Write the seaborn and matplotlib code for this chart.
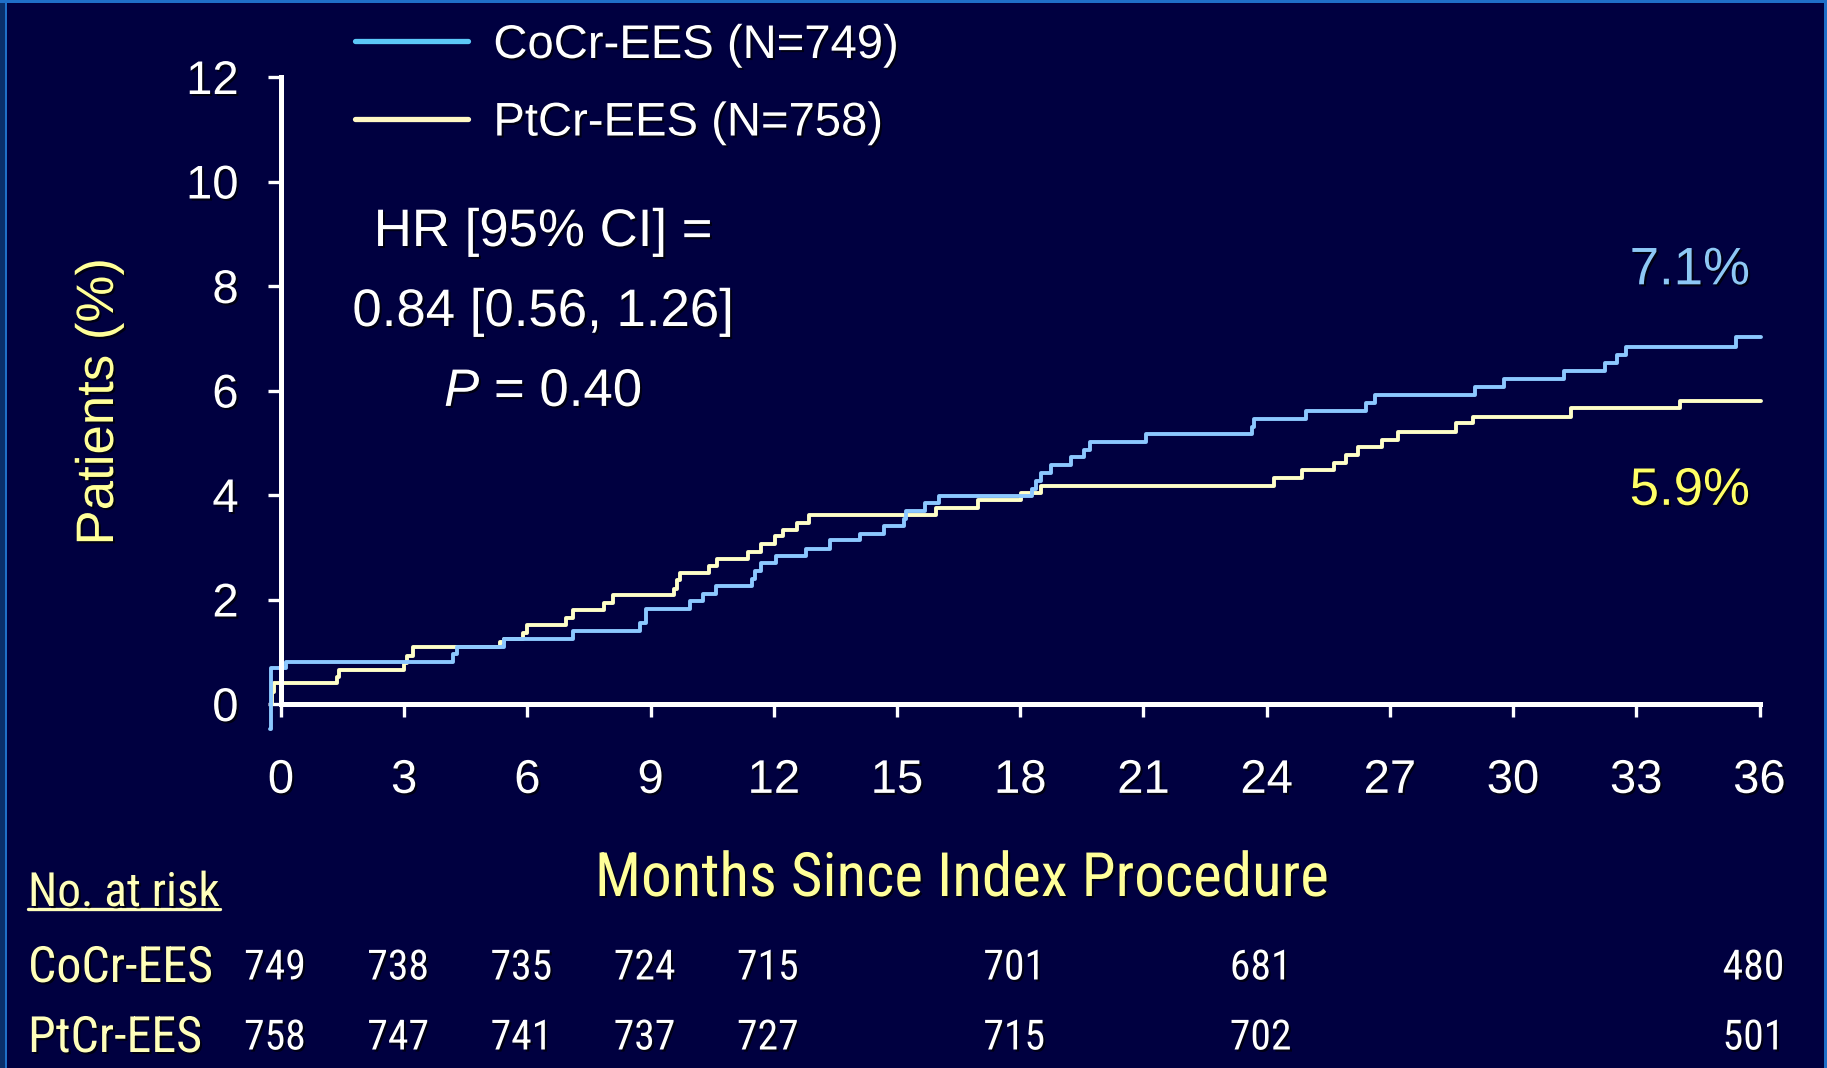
import matplotlib
matplotlib.use('Agg')
import matplotlib.pyplot as plt
import matplotlib.patheffects as pe
import matplotlib.transforms as mtransforms
from matplotlib.lines import Line2D
from matplotlib.patches import Rectangle
import pandas as pd
import seaborn as sns

# ---- data ----
# cumulative event rate (%) vs months, step curves
cocr_months = [-0.26, -0.25, 0.13, 4.19, 4.29, 5.42, 7.12, 8.73, 8.88, 9.96, 10.28, 10.60,
               11.47, 11.53, 11.69, 12.05, 12.78, 13.37, 14.11, 14.68, 15.17, 15.22, 15.68,
               16.03, 18.29, 18.38, 18.51, 18.74, 19.24, 19.55, 19.69, 21.05, 23.65, 23.68,
               24.96, 26.41, 26.63, 29.07, 29.79, 31.24, 32.25, 32.53, 32.74, 35.42, 36.03]
cocr_pct = [-0.47, 0.68, 0.81, 0.95, 1.09, 1.25, 1.40, 1.55, 1.82, 1.97, 2.11, 2.25,
            2.40, 2.55, 2.70, 2.83, 2.97, 3.13, 3.26, 3.41, 3.55, 3.70, 3.85,
            3.98, 4.12, 4.27, 4.42, 4.58, 4.73, 4.87, 5.02, 5.16, 5.30, 5.46,
            5.61, 5.76, 5.92, 6.07, 6.22, 6.38, 6.52, 6.68, 6.84, 7.03, 7.03]

ptcr_months = [-0.23, -0.22, -0.16, 1.36, 1.42, 2.99, 3.08, 3.21, 5.34, 5.42, 5.90, 5.99,
               6.95, 7.12, 7.86, 8.08, 9.57, 9.64, 9.71, 10.42, 10.62, 11.36, 11.69, 12.03,
               12.23, 12.57, 12.86, 15.94, 16.98, 18.03, 18.50, 24.17, 24.86, 25.63, 25.92,
               26.22, 26.80, 27.20, 28.62, 29.03, 31.40, 34.06, 36.03]
ptcr_pct = [0.0, 0.23, 0.40, 0.52, 0.66, 0.79, 0.92, 1.09, 1.18, 1.25, 1.35, 1.51,
            1.64, 1.80, 1.94, 2.09, 2.21, 2.37, 2.50, 2.65, 2.77, 2.91, 3.06, 3.21,
            3.33, 3.47, 3.61, 3.76, 3.90, 4.04, 4.18, 4.33, 4.47, 4.61, 4.76,
            4.92, 5.06, 5.20, 5.37, 5.50, 5.66, 5.79, 5.79]

arms = ['CoCr-EES', 'PtCr-EES']
arm_n = [749, 758]
final_labels = ['7.1%', '5.9%']
hr_lines = ['HR [95% CI] =', '0.84 [0.56, 1.26]', '$P$ = 0.40']

risk_months = [0, 3, 6, 9, 12, 18, 24, 36]
cocr_risk = [749, 738, 735, 724, 715, 701, 681, 480]
ptcr_risk = [758, 747, 741, 737, 727, 715, 702, 501]

x_ticks = list(range(0, 37, 3))
y_ticks = list(range(0, 13, 2))

# ---- colours ----
BG = '#000040'
BLUE = '#8CC8FF'
YELLOW = '#FFFFC8'
LEG_BLUE = '#5CC8F8'
LEG_YELLOW = '#FFF8C4'
LABEL_YELLOW = '#FFFF99'
ROW_YELLOW = '#FFFFBB'
NARROW = 'Roboto Condensed'

df = pd.concat([
    pd.DataFrame({'month': cocr_months, 'pct': cocr_pct, 'arm': arms[0]}),
    pd.DataFrame({'month': ptcr_months, 'pct': ptcr_pct, 'arm': arms[1]}),
], ignore_index=True)

sns.set_style('ticks')
plt.rcParams['font.family'] = ['Liberation Sans', 'DejaVu Sans']
plt.rcParams['mathtext.fontset'] = 'custom'
plt.rcParams['mathtext.rm'] = 'Liberation Sans'
plt.rcParams['mathtext.it'] = 'Liberation Sans:italic'

shadow = [pe.withSimplePatchShadow(offset=(1.5, -1.5), shadow_rgbFace='black', alpha=0.7)]

W, H = 1827, 1068
fig = plt.figure(figsize=(W / 100, H / 100), dpi=100, facecolor=BG)
ax = fig.add_axes([281 / W, 1 - 704 / H, (1759.5 - 281) / W, (704 - 77) / H])
ax.set_facecolor(BG)

sns.lineplot(data=df, x='month', y='pct', hue='arm', hue_order=[arms[1], arms[0]],
             palette={arms[0]: BLUE, arms[1]: YELLOW}, drawstyle='steps-post',
             estimator=None, sort=False, linewidth=2.8, legend=False, ax=ax, clip_on=False)

ax.set_xlim(0, 36)
ax.set_ylim(0, 12)
ax.set_xticks(x_ticks)
ax.set_yticks(y_ticks)
for s in ['top', 'right']:
    ax.spines[s].set_visible(False)
for s in ['left', 'bottom']:
    ax.spines[s].set_color('white')
    ax.spines[s].set_linewidth(3.6)
ax.tick_params(colors='white', labelsize=34, length=9.5, width=2.4, direction='out')
ax.tick_params(axis='x', pad=30)
ax.tick_params(axis='y', pad=21)
for lab in ax.get_xticklabels() + ax.get_yticklabels():
    lab.set_path_effects(shadow)

ax.set_ylabel('Patients (%)', color=LABEL_YELLOW, fontsize=38, va='center')
ax.yaxis.set_label_coords((99 - 281) / (1759.5 - 281), (704 - 402) / (704 - 77))
ax.set_xlabel('Months Since Index Procedure', color=LABEL_YELLOW, fontsize=44,
              family=NARROW, va='center')
ax.xaxis.set_label_coords((962 - 281) / (1759.5 - 281), (704 - 879) / (704 - 77))
ax.xaxis.label.set_path_effects(shadow)
ax.yaxis.label.set_path_effects(shadow)

# legend
handles = [Line2D([], [], color=LEG_BLUE, lw=3.8), Line2D([], [], color=LEG_YELLOW, lw=3.8)]
labels = [f'{a} (N={n})' for a, n in zip(arms, arm_n)]
leg = fig.legend(handles, labels, loc='upper left', bbox_to_anchor=(355 / W, 1 - 24 / H),
                 bbox_transform=fig.transFigure, frameon=False, fontsize=34,
                 handlelength=2.4, handletextpad=0.53, labelspacing=0.71,
                 borderpad=0, borderaxespad=0, labelcolor='white')
for t in leg.get_texts():
    t.set_path_effects(shadow)

# hazard ratio block
for line, yy in zip(hr_lines, [232, 312, 392]):
    fig.text(543 / W, 1 - yy / H, line, ha='center', va='center', fontsize=38,
             color='white', path_effects=shadow)

# final rates
ax.text(35.77, 8.30, final_labels[0], ha='right', va='center', fontsize=38, color='#8EC8F5',
        path_effects=shadow)
ax.text(35.77, 4.08, final_labels[1], ha='right', va='center', fontsize=38, color='#FFFF66',
        path_effects=shadow)

# number at risk table
nar = fig.text(28 / W, 1 - 893 / H, 'No. at risk', ha='left', va='center',
               fontsize=34, family=NARROW, color=ROW_YELLOW, path_effects=shadow)
trans = mtransforms.blended_transform_factory(ax.transData, fig.transFigure)
shift = mtransforms.offset_copy(trans, fig=fig, x=-6, units='dots')
for arm, counts, yy in zip(arms, [cocr_risk, ptcr_risk], [968, 1038]):
    fig.text(28 / W, 1 - yy / H, arm, ha='left', va='center', fontsize=36,
             family=NARROW, color=ROW_YELLOW, path_effects=shadow)
    for m, c in zip(risk_months, counts):
        ax.text(m, 1 - yy / H, str(c), transform=shift, ha='center', va='center',
                fontsize=30, family=NARROW, color='white', clip_on=False,
                path_effects=shadow)

fig.canvas.draw()
bb = nar.get_window_extent()
fig.add_artist(Line2D([bb.x0 / W, bb.x1 / W], [(bb.y0 + 6) / H] * 2,
                      transform=fig.transFigure, color=ROW_YELLOW, lw=2.4))

# slide border
fig.add_artist(Rectangle((0, 0), 5 / W, 1, transform=fig.transFigure,
                         facecolor='#0A2F6B', edgecolor='none'))
edge = '#1F6FC8'
fig.add_artist(Rectangle((5 / W, 0), 2 / W, 1, transform=fig.transFigure,
                         facecolor=edge, edgecolor='none'))
fig.add_artist(Rectangle((0, 1 - 3 / H), 1, 3 / H, transform=fig.transFigure,
                         facecolor=edge, edgecolor='none'))
fig.add_artist(Rectangle((1 - 3 / W, 0), 3 / W, 1, transform=fig.transFigure,
                         facecolor=edge, edgecolor='none'))

fig.savefig('out.png', dpi=100, facecolor=BG)
